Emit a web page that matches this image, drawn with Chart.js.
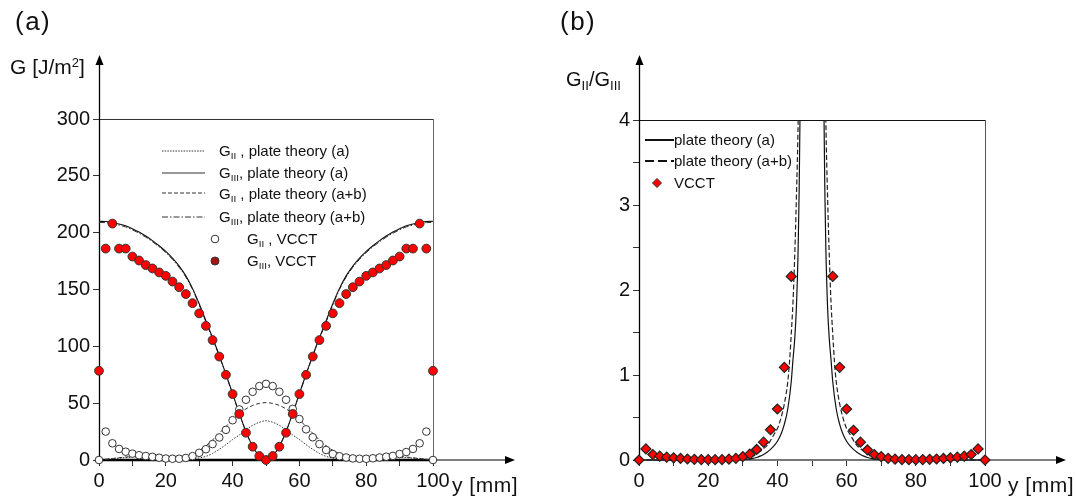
<!DOCTYPE html>
<html>
<head>
<meta charset="utf-8">
<script src="https://cdn.jsdelivr.net/npm/chart.js@4.4.1/dist/chart.umd.min.js"></script>
<style>
  body { margin: 0; background: #fff; }
  #page { position: relative; width: 1076px; height: 499px; font-family: 'Liberation Sans', Arial, sans-serif; color: #111; }
  canvas { position: absolute; top: 0; }
  .t { position: absolute; white-space: nowrap; line-height: 1; }
  .leg { position: absolute; font-size: 15px; line-height: 18px; height: 18px; white-space: nowrap; }
  .leg sub, .t sub { font-size: 0.66em; vertical-align: -0.32em; line-height: 0; }
  .t sup { font-size: 0.62em; vertical-align: 0.55em; line-height: 0; }
  svg { position: absolute; overflow: visible; }
</style>
</head>
<body>
<div id="page">
  <canvas id="chartA" width="538" height="499" style="left:0"></canvas>
  <canvas id="chartB" width="538" height="499" style="left:538px"></canvas>

  <div class="t" style="left:15px;top:8px;font-size:26px;letter-spacing:1.5px">(a)</div>
  <div class="t" style="left:560px;top:8px;font-size:26px;letter-spacing:1.5px">(b)</div>
  <div class="t" style="left:10px;top:56px;font-size:21px">G [J/m<sup>2</sup>]</div>
  <div class="t" style="left:452px;top:474px;font-size:21px;letter-spacing:0.5px">y [mm]</div>
  <div class="t" style="left:566px;top:69px;font-size:20px">G<sub>II</sub>/G<sub>III</sub></div>
  <div class="t" style="left:1008px;top:474px;font-size:21px;letter-spacing:0.5px">y [mm]</div>

  <!-- legend (a) -->
  <svg style="left:162px;top:148px" width="43" height="6"><line x1="0" y1="3" x2="43" y2="3" stroke="#333" stroke-width="1" stroke-dasharray="1.5 1.2"/></svg>
  <div class="leg" style="left:219px;top:142px">G<sub>II</sub> , plate theory (a)</div>
  <svg style="left:162px;top:170px" width="43" height="6"><line x1="0" y1="3" x2="43" y2="3" stroke="#333" stroke-width="1.1"/></svg>
  <div class="leg" style="left:219px;top:164px">G<sub>III</sub>, plate theory (a)</div>
  <svg style="left:162px;top:190px" width="43" height="6"><line x1="0" y1="3" x2="43" y2="3" stroke="#333" stroke-width="1" stroke-dasharray="4 2"/></svg>
  <div class="leg" style="left:219px;top:185px">G<sub>II</sub> , plate theory (a+b)</div>
  <svg style="left:162px;top:214px" width="43" height="6"><line x1="0" y1="3" x2="43" y2="3" stroke="#333" stroke-width="1" stroke-dasharray="6 2 1.5 2"/></svg>
  <div class="leg" style="left:219px;top:208px">G<sub>III</sub>, plate theory (a+b)</div>
  <svg style="left:210px;top:234px" width="10" height="10"><circle cx="5" cy="5" r="3.8" fill="#fff" stroke="#333" stroke-width="1"/></svg>
  <div class="leg" style="left:247px;top:230px">G<sub>II</sub> , VCCT</div>
  <svg style="left:210px;top:256px" width="10" height="10"><circle cx="5" cy="5" r="4" fill="#a51515" stroke="#333" stroke-width="1"/></svg>
  <div class="leg" style="left:247px;top:252px">G<sub>III</sub>, VCCT</div>

  <!-- legend (b) -->
  <svg style="left:645px;top:137px" width="29" height="6"><line x1="0" y1="3" x2="29" y2="3" stroke="#111" stroke-width="2"/></svg>
  <div class="leg" style="left:674px;top:131px">plate theory (a)</div>
  <svg style="left:645px;top:158px" width="29" height="6"><line x1="0" y1="3" x2="29" y2="3" stroke="#111" stroke-width="2" stroke-dasharray="9 4"/></svg>
  <div class="leg" style="left:674px;top:152px">plate theory (a+b)</div>
  <svg style="left:652px;top:178px" width="10" height="10"><polygon points="5,0.5 9.5,5 5,9.5 0.5,5" fill="#f00" stroke="#333" stroke-width="1"/></svg>
  <div class="leg" style="left:674px;top:174px">VCCT</div>
</div>

<script>
// positions along the crack front, y [mm]
const yPos = [0,2,4,6,8,10,12,14,16,18,20,22,24,26,28,30,32,34,36,38,40,42,44,46,48,50,
              52,54,56,58,60,62,64,66,68,70,72,74,76,78,80,82,84,86,88,90,92,94,96,98,100];

// (a) energy release rates [J/m^2]
const gIIVcct = [0,25,14.7,9.7,7.3,5.6,4.2,3.5,2.8,2,1.3,1.1,1.1,1.8,3.4,6.3,9.5,14,19.8,26.5,35,44.5,53,60,65,67,
                 65,60,53,45,36,27,20,14,8.8,5.3,3.3,2.2,1.4,1.1,1.1,1.5,2.2,2.9,3.6,5.3,7,9.7,14.7,25,0];
const gIIIVcct = [78.5,186,208,186,186,179,175.5,171.5,168.5,165,162,157,152,146,138,129,118,105.5,91,75,58,40.5,24,11.7,3.5,0,
                  3.5,11.7,24,40.5,58,75,91,105.5,118,129,138,146,152,157,162,165,168.5,171.5,175.5,179,186,186,208,186,78.5];
const gIIIPlateA = [210,209.8,209,207.7,206,203.5,200.5,197,193,188.5,183.5,177.5,170.5,162,151,137.5,122.5,107.5,92,75.5,58.5,41,25,12,3.5,0,
                    3.5,12,25,41,58.5,75.5,92,107.5,122.5,137.5,151,162,170.5,177.5,183.5,188.5,193,197,200.5,203.5,206,207.7,209,209.8,210];
const gIIIPlateAB = [209,208.8,208,206.7,205,202.5,199.5,196,192,187.5,182.5,176.5,169.5,161,150,136.5,121.5,106.5,91.5,75,58,41,25,12,3.5,0,
                     3.5,12,25,41,58,75,91.5,106.5,121.5,136.5,150,161,169.5,176.5,182.5,187.5,192,196,199.5,202.5,205,206.7,208,208.8,209];
const gIIPlateA = [0,0.5,1.1,1.6,2.1,2.5,2.8,2.9,2.8,2.5,2.1,1.7,1.3,1.1,1.2,1.8,3.2,5.8,9.4,13.5,18,22,26.5,30.5,33.2,34.5,
                   33.2,30.5,26.5,22,18,13.5,9.4,5.8,3.2,1.8,1.2,1.1,1.3,1.7,2.1,2.5,2.8,2.9,2.8,2.5,2.1,1.6,1.1,0.5,0];
const gIIPlateAB = [0,0.6,1.3,2,2.6,3.1,3.4,3.5,3.4,3.1,2.8,2.6,2.8,3.7,5.5,8.5,12.5,17.6,23.5,29.5,35.3,40.7,45,48,49.8,50.5,
                    49.8,48,45,40.7,35.3,29.5,23.5,17.6,12.5,8.5,5.5,3.7,2.8,2.6,2.8,3.1,3.4,3.5,3.4,3.1,2.6,2,1.3,0.6,0];

// (b) mode ratio G_II / G_III
const ratioVcct = [0,0.13,0.065,0.045,0.033,0.026,0.018,0.012,0.008,0.005,0.004,0.004,0.005,0.01,0.02,0.04,0.07,0.124,0.21,0.356,0.6,1.09,2.16,
                   null,null,null,null,null,
                   2.16,1.09,0.6,0.35,0.21,0.12,0.065,0.04,0.02,0.01,0.005,0.004,0.004,0.005,0.008,0.012,0.018,0.026,0.033,0.045,0.065,0.13,0];
const ratioAX = [0,10,20,26,30,32,33,34,35,36,37,38,39,40,41,42,43,44,44.5,45,45.5,46,46.3,46.6,47,
                 50,
                 53,53.4,53.7,54,54.5,55,55.5,56,57,58,59,60,61,62,63,64,65,66,67,68,70,74,80,90,100];
const ratioA = [0,0,0.001,0.002,0.006,0.012,0.02,0.03,0.045,0.065,0.09,0.125,0.165,0.22,0.3,0.42,0.6,0.92,1.18,1.42,1.8,2.5,3.2,4.3,6,
                null,
                6,4.3,3.2,2.5,1.8,1.42,1.18,0.92,0.6,0.42,0.3,0.22,0.165,0.125,0.09,0.065,0.045,0.03,0.02,0.012,0.006,0.002,0.001,0,0];
const ratioABX = [0,10,20,26,28,30,31,32,33,34,35,36,37,38,39,40,41,42,43,43.5,44,44.5,45,45.5,46,46.3,
                  50,
                  53.7,54,54.5,55,55.5,56,56.5,57,58,59,60,61,62,63,64,65,66,67,68,69,70,72,74,80,90,100];
const ratioAB = [0,0,0.002,0.005,0.01,0.015,0.02,0.03,0.045,0.075,0.1,0.135,0.17,0.23,0.3,0.37,0.49,0.66,0.92,1.15,1.48,1.85,2.4,3.1,4,5,
                 null,
                 5,4,3.1,2.4,1.85,1.48,1.15,0.92,0.66,0.49,0.37,0.3,0.23,0.17,0.135,0.1,0.075,0.045,0.03,0.02,0.015,0.01,0.005,0.002,0,0];

const FONT = "'Liberation Sans', Arial, sans-serif";

function pts(xs, ys) {
    return xs.map((x, i) => ({ x: x, y: ys[i] }));
}

function seg(ctx, x1, y1, x2, y2, color, width) {
    ctx.beginPath();
    ctx.strokeStyle = color;
    ctx.lineWidth = width;
    ctx.moveTo(x1, y1);
    ctx.lineTo(x2, y2);
    ctx.stroke();
}

function tri(ctx, p) {
    ctx.beginPath();
    ctx.fillStyle = '#000';
    ctx.moveTo(p[0], p[1]);
    ctx.lineTo(p[2], p[3]);
    ctx.lineTo(p[4], p[5]);
    ctx.closePath();
    ctx.fill();
}

// box edges, axis lines running past the box, arrow heads
const frameLines = {
    id: 'frameLines',
    beforeDatasetsDraw(chart, args, o) {
        const { ctx, chartArea: a } = chart;
        const x0 = Math.round(a.left) + 0.5;
        const yb = Math.round(a.bottom);
        ctx.save();
        seg(ctx, a.left, a.top + 0.5, a.right, a.top + 0.5, o.topColor, 1);
        seg(ctx, a.right + 0.5, a.top, a.right + 0.5, yb, o.sideColor, 1);
        seg(ctx, x0, yb, x0, o.tipY + 6, '#000', 1.3);
        tri(ctx, [x0, o.tipY, x0 - 4, o.tipY + 10, x0 + 4, o.tipY + 10]);
        seg(ctx, a.right, yb, o.tipX - 6, yb, o.extColor, o.extWidth);
        seg(ctx, a.left, yb, a.right + 1, yb, o.baseColor, o.baseWidth);
        tri(ctx, [o.tipX, yb, o.tipX - 10, yb - 4, o.tipX - 10, yb + 4]);
        ctx.restore();
    }
};

function axisX(labelEvery) {
    return {
        type: 'linear', min: 0, max: 100,
        border: { display: false },
        grid: { drawOnChartArea: false, tickLength: 6, color: '#333' },
        ticks: {
            stepSize: 10, autoSkip: false, maxRotation: 0, padding: 3,
            color: '#111', font: { family: FONT, size: 20 },
            callback: v => (v % labelEvery === 0 ? v : '')
        },
        afterFit: s => { s.height = 39; }
    };
}

function drawChartA() {
    const ctx = document.getElementById('chartA').getContext('2d');
    new Chart(ctx, {
        type: 'scatter',
        data: {
            datasets: [
                { data: pts(yPos, gIIIVcct), pointRadius: 4.4, backgroundColor: '#ff0000', borderColor: '#333', borderWidth: 1, clip: false },
                { data: pts(yPos, gIIVcct), pointRadius: 3.8, backgroundColor: '#fff', borderColor: '#333', borderWidth: 1, clip: false },
                { data: pts(yPos, gIIIPlateA), showLine: true, pointRadius: 0, borderColor: '#111', borderWidth: 1.1, cubicInterpolationMode: 'monotone' },
                { data: pts(yPos, gIIIPlateAB), showLine: true, pointRadius: 0, borderColor: '#333', borderWidth: 1, borderDash: [6, 2, 1.5, 2], cubicInterpolationMode: 'monotone' },
                { data: pts(yPos, gIIPlateAB), showLine: true, pointRadius: 0, borderColor: '#333', borderWidth: 1, borderDash: [4, 2.5], cubicInterpolationMode: 'monotone' },
                { data: pts(yPos, gIIPlateA), showLine: true, pointRadius: 0, borderColor: '#333', borderWidth: 1, borderDash: [1.5, 1.5], cubicInterpolationMode: 'monotone' }
            ]
        },
        options: {
            responsive: false,
            animation: false,
            layout: { padding: { top: 119, right: 105, left: 0, bottom: 0 } },
            plugins: {
                legend: { display: false },
                tooltip: { enabled: false },
                frameLines: { tipY: 55, tipX: 515, topColor: '#333', sideColor: '#666',
                              baseColor: '#000', baseWidth: 2.6, extColor: '#555', extWidth: 1.4 }
            },
            scales: {
                x: axisX(20),
                y: {
                    min: 0, max: 300,
                    border: { display: false },
                    grid: { drawOnChartArea: false, tickLength: 6, color: '#333' },
                    ticks: { stepSize: 50, padding: 3, color: '#111', font: { family: FONT, size: 20 } },
                    afterFit: s => { s.width = 99; }
                }
            }
        },
        plugins: [frameLines]
    });
}

function drawChartB() {
    const ctx = document.getElementById('chartB').getContext('2d');
    const lineClip = { left: 5, right: 5, top: 0, bottom: 5 };
    new Chart(ctx, {
        type: 'scatter',
        data: {
            datasets: [
                { data: pts(yPos, ratioVcct), pointStyle: 'rectRot', pointRadius: 5, backgroundColor: '#ff0000', borderColor: '#222', borderWidth: 1.2, clip: false },
                { data: pts(ratioAX, ratioA), showLine: true, pointRadius: 0, borderColor: '#111', borderWidth: 1.2, cubicInterpolationMode: 'monotone', clip: lineClip },
                { data: pts(ratioABX, ratioAB), showLine: true, pointRadius: 0, borderColor: '#222', borderWidth: 1.2, borderDash: [5, 2.5], cubicInterpolationMode: 'monotone', clip: lineClip }
            ]
        },
        options: {
            responsive: false,
            animation: false,
            layout: { padding: { top: 120, right: 91, left: 0, bottom: 0 } },
            plugins: {
                legend: { display: false },
                tooltip: { enabled: false },
                frameLines: { tipY: 55, tipX: 528, topColor: '#111', sideColor: '#555',
                              baseColor: '#777', baseWidth: 2, extColor: '#000', extWidth: 1.2 }
            },
            scales: {
                x: axisX(20),
                y: {
                    min: 0, max: 4,
                    border: { display: false },
                    grid: { drawOnChartArea: false, tickLength: 6, color: '#333' },
                    ticks: {
                        stepSize: 0.5, padding: 3, color: '#111', font: { family: FONT, size: 20 },
                        callback: v => (Number.isInteger(v) ? v : '')
                    },
                    afterFit: s => { s.width = 101; }
                }
            }
        },
        plugins: [frameLines]
    });
}

drawChartA();
drawChartB();
</script>
</body>
</html>
